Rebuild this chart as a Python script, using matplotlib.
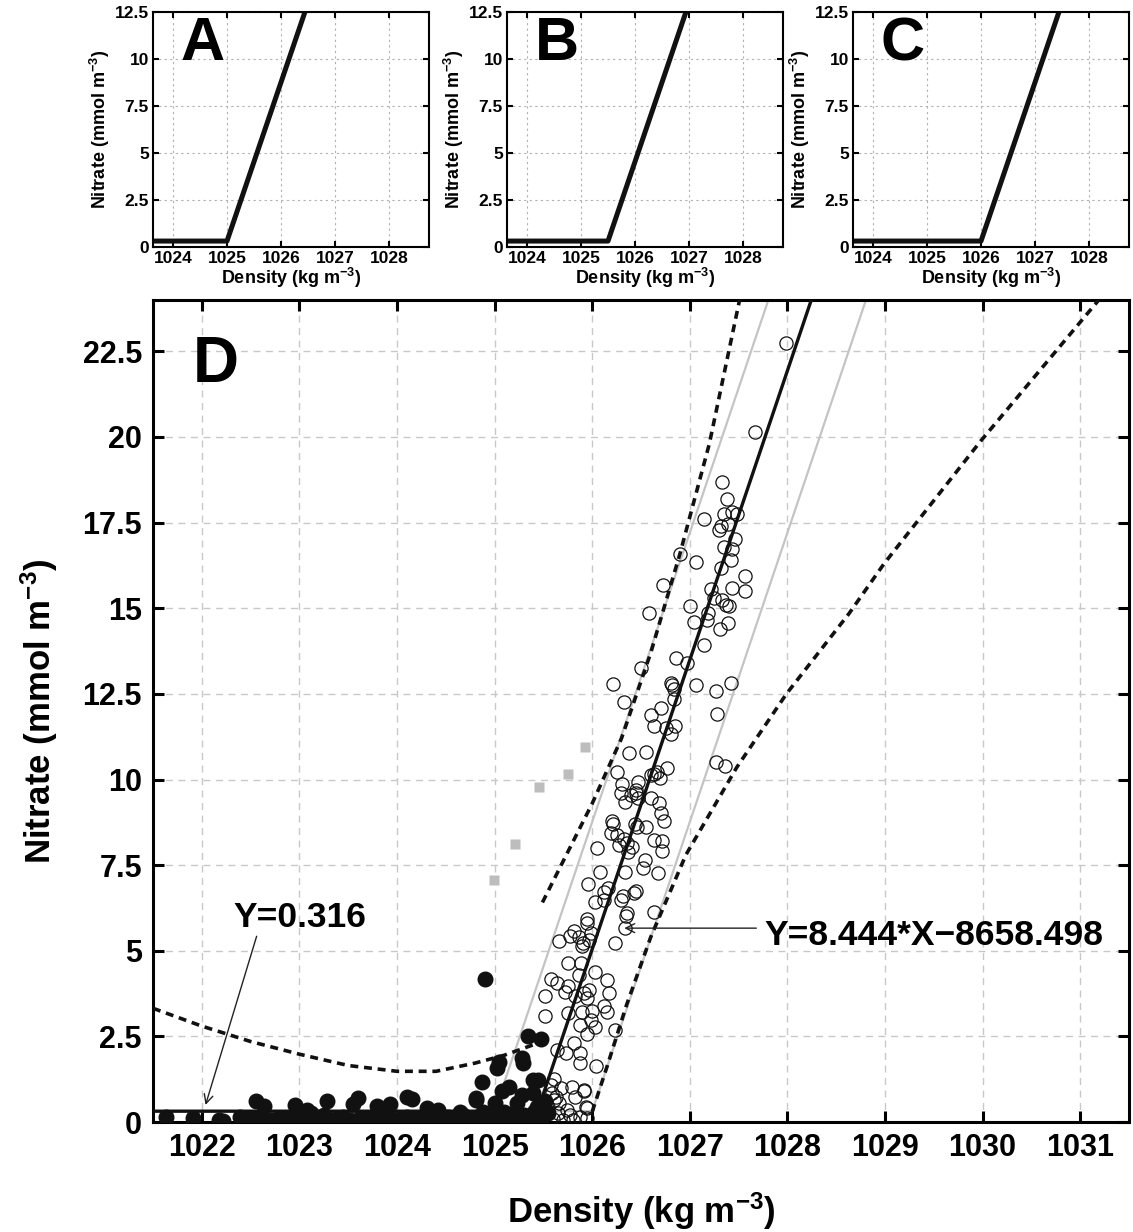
import numpy as np
import matplotlib
matplotlib.use("Agg")
from matplotlib import pyplot as plt
from matplotlib.ticker import FormatStrFormatter

plt.rcParams["font.family"] = ["Liberation Sans", "DejaVu Sans"]
plt.rcParams["font.weight"] = "bold"
plt.rcParams["axes.labelweight"] = "bold"
plt.rcParams["mathtext.fontset"] = "custom"
plt.rcParams["mathtext.rm"] = "Liberation Sans:bold"
plt.rcParams["mathtext.bf"] = "Liberation Sans:bold"
plt.rcParams["mathtext.it"] = "Liberation Sans:bold"
plt.rcParams["mathtext.default"] = "bf"

# fitted model (from the chart annotations)
plateau = 0.316
slope = 8.444
intercept = -8658.498
panel_breaks = [1025.0, 1025.5, 1026.0]
panel_names = ["A", "B", "C"]

# surface samples (filled dots)
surf_x = [1021.63, 1021.91, 1022.18, 1022.22, 1022.39, 1022.47, 1022.56, 1022.64, 1022.55, 1022.62,
          1022.70, 1022.77, 1022.84, 1022.91, 1022.95, 1022.98, 1023.02, 1023.08, 1023.05, 1023.12,
          1023.18, 1023.25, 1023.28, 1023.30, 1023.38, 1023.45, 1023.52, 1023.55, 1023.60, 1023.62,
          1023.68, 1023.75, 1023.79, 1023.82, 1023.90, 1023.93, 1023.96, 1024.02, 1024.10, 1024.15,
          1024.10, 1024.18, 1024.25, 1024.31, 1024.32, 1024.38, 1024.42, 1024.45, 1024.52, 1024.60,
          1024.65, 1024.68, 1024.75, 1024.81, 1024.82, 1024.81, 1024.87, 1024.88, 1024.90, 1024.95,
          1025.00, 1025.00, 1025.02, 1025.05, 1025.05, 1025.08, 1025.10, 1025.15, 1025.15, 1025.20,
          1025.23, 1025.25, 1025.28, 1025.29, 1025.28, 1025.30, 1025.34, 1025.35, 1025.39, 1025.39,
          1025.40, 1025.43, 1025.44, 1025.45, 1025.48, 1025.50, 1025.52, 1025.55]
surf_y = [0.15, 0.12, 0.05, 0.04, 0.15, 0.12, 0.61, 0.47, 0.08, 0.10,
          0.06, 0.10, 0.08, 0.12, 0.50, 0.20, 0.10, 0.35, 0.15, 0.25,
          0.10, 0.20, 0.61, 0.05, 0.10, 0.15, 0.05, 0.52, 0.70, 0.12,
          0.08, 0.15, 0.47, 0.10, 0.20, 0.52, 0.05, 0.10, 0.73, 0.67,
          0.15, 0.08, 0.12, 0.41, 0.20, 0.10, 0.35, 0.05, 0.15, 0.10,
          0.30, 0.20, 0.08, 0.64, 0.15, 0.70, 1.17, 0.30, 4.17, 0.10,
          0.55, 0.20, 1.57, 1.75, 0.05, 0.90, 0.30, 1.02, 0.12, 0.25,
          0.55, 0.08, 1.87, 1.72, 0.79, 0.20, 2.51, 0.10, 1.22, 0.85,
          0.30, 0.44, 1.22, 0.05, 2.42, 0.15, 0.60, 0.25]

# deep samples (open circles)
deep_x = [1027.99, 1027.67, 1027.33, 1027.38, 1027.35, 1027.43, 1027.48, 1027.15, 1027.32, 1027.39,
          1027.30, 1027.46, 1027.35, 1027.43, 1027.42, 1026.90, 1027.06, 1027.32,
          1027.57, 1026.73, 1027.43, 1027.22, 1027.57, 1027.25, 1027.33, 1027.37, 1027.40, 1027.00,
          1026.58, 1027.19, 1027.18, 1027.04, 1027.39, 1027.31, 1027.15, 1026.86, 1026.97, 1026.50,
          1026.21, 1026.81, 1026.82, 1026.84, 1027.06, 1027.42, 1027.27, 1026.84, 1026.33, 1026.71,
          1027.28, 1026.60, 1026.63, 1026.85, 1026.76, 1026.81, 1026.55, 1026.38, 1027.27, 1027.36,
          1026.77, 1026.25, 1026.66, 1026.63, 1026.69, 1026.60, 1026.31, 1026.47, 1026.45,
          1026.30, 1026.40, 1026.45, 1026.47, 1026.34, 1026.60, 1026.68, 1026.71, 1026.74, 1026.20,
          1026.21, 1026.44, 1026.46, 1026.55, 1026.19, 1026.25, 1026.33, 1026.36, 1026.27, 1026.41,
          1026.37, 1026.63, 1026.72, 1026.72, 1026.05, 1026.54, 1026.52, 1026.67, 1026.34, 1026.08,
          1025.96, 1026.16, 1026.12, 1026.32, 1026.43, 1026.45, 1026.03, 1026.12, 1026.30, 1026.36,
          1026.35, 1026.34, 1026.63, 1025.95, 1025.95, 1025.99, 1025.81, 1025.77, 1025.86, 1025.91,
          1025.97, 1025.66, 1026.23, 1025.90, 1025.75, 1025.89,
          1025.86, 1026.03, 1025.58, 1025.64, 1025.75, 1026.15, 1025.72, 1025.82, 1025.92, 1025.97,
          1026.17, 1025.52, 1025.95, 1026.12, 1026.15, 1025.52, 1025.75, 1025.90, 1026.00, 1025.99,
          1025.88, 1026.03, 1025.95, 1026.23, 1025.81, 1025.64, 1025.73, 1025.87, 1025.88, 1026.04,
          1025.61, 1025.58, 1025.68, 1025.79, 1025.92, 1025.59, 1025.63, 1025.82, 1025.61, 1025.66,
          1025.94, 1025.55, 1025.74, 1025.65, 1025.77, 1025.87, 1025.95, 1025.60, 1025.70, 1025.80,
          1025.95, 1025.92]
deep_y = [22.74, 20.15, 18.69, 18.19, 17.76, 17.81, 17.76, 17.61, 17.40, 17.46,
          17.29, 17.03, 16.79, 16.73, 16.41, 16.59, 16.36, 16.18,
          15.95, 15.69, 15.60, 15.57, 15.51, 15.31, 15.25, 15.10, 15.07, 15.07,
          14.87, 14.87, 14.66, 14.61, 14.58, 14.40, 13.94, 13.56, 13.41, 13.27,
          12.80, 12.83, 12.77, 12.65, 12.77, 12.83, 12.57, 12.36, 12.27, 12.10,
          11.92, 11.87, 11.55, 11.57, 11.49, 11.34, 10.79, 10.76, 10.50, 10.38,
          10.35, 10.23, 10.23, 10.17, 10.03, 10.12, 9.88, 9.94, 9.68,
          9.62, 9.56, 9.62, 9.45, 9.33, 9.45, 9.30, 9.01, 8.78, 8.78,
          8.69, 8.69, 8.61, 8.60, 8.43, 8.37, 8.25, 8.16, 8.08, 8.02,
          7.87, 8.22, 8.19, 7.90, 7.99, 7.64, 7.41, 7.26, 7.29, 7.29,
          6.94, 6.82, 6.71, 6.59, 6.68, 6.74, 6.41, 6.47, 6.47, 6.09,
          6.01, 5.66, 6.12, 5.92, 5.80, 5.51, 5.57, 5.42, 5.39, 5.22,
          5.30, 5.28, 5.22, 5.13, 4.64, 4.64,
          4.29, 4.37, 4.17, 4.05, 3.97, 4.14, 3.79, 3.67, 3.76, 3.85,
          3.76, 3.67, 3.62, 3.38, 3.21, 3.09, 3.18, 3.21, 3.24, 2.97,
          2.83, 2.77, 2.57, 2.68, 2.30, 2.10, 2.01, 2.01, 1.72, 1.63,
          1.25, 1.08, 0.99, 1.02, 0.90, 0.85, 0.73, 0.73, 0.64, 0.55,
          0.44, 0.44, 0.35, 0.26, 0.20, 0.15, 0.12, 0.09, 0.06, 0.06,
          0.41, 0.93]

# excluded samples (grey squares)
excl_x = [1024.99, 1025.21, 1025.45, 1025.75, 1025.93]
excl_y = [7.08, 8.13, 9.77, 10.17, 10.96]

# confidence bounds (dashed)
lowleft_x = [1021.5, 1022.0, 1022.5, 1023.0, 1023.5, 1024.0, 1024.4, 1024.8, 1025.1, 1025.49]
lowleft_y = [3.32, 2.80, 2.35, 1.98, 1.65, 1.48, 1.48, 1.72, 1.95, 2.35]
upper_x = [1025.49, 1025.7, 1026.0, 1026.3, 1026.6, 1026.9, 1027.2, 1027.51]
upper_y = [6.41, 7.6, 9.3, 11.2, 13.7, 16.6, 19.8, 24.0]
lower_x = [1026.0, 1026.15, 1026.35, 1026.6, 1026.96, 1027.48, 1027.99, 1028.63, 1028.99, 1029.98, 1031.19]
lower_y = [0.30, 1.60, 3.40, 5.40, 7.80, 10.35, 12.50, 14.84, 16.30, 19.88, 24.0]

W, H = 1133, 1232
fig = plt.figure(figsize=(W / 100, H / 100), dpi=100)


def model(x, xb):
    x = np.asarray(x, dtype=float)
    return np.where(x < xb, plateau, plateau + slope * (x - xb))


def style_axes(ax, tick_len, lw):
    ax.tick_params(direction="in", top=True, right=True, length=tick_len, width=lw)
    for s in ax.spines.values():
        s.set_linewidth(lw)
    ax.set_axisbelow(True)


# small panels A-C
small_lefts = [153, 507, 853]
for left, xb, name in zip(small_lefts, panel_breaks, panel_names):
    ax = fig.add_axes([left / W, 1 - 247 / H, 276 / W, 235 / H])
    xs = np.array([1023.63, xb, xb + (12.6 - plateau) / slope])
    ax.plot(xs, model(xs, xb), color="#111111", lw=3.6, solid_capstyle="butt")
    ax.set_xlim(1023.63, 1028.74)
    ax.set_ylim(0, 12.5)
    ax.set_xticks([1024, 1025, 1026, 1027, 1028])
    ax.set_yticks([0, 2.5, 5, 7.5, 10, 12.5])
    ax.yaxis.set_major_formatter(FormatStrFormatter("%g"))
    ax.grid(True, color="#b0b0b0", ls=(0, (2, 3)), lw=0.8)
    style_axes(ax, 4, 1.5)
    ax.tick_params(labelsize=12.5, pad=3)
    ax.set_xlabel("Density (kg m$^{-3}$)", fontsize=13, labelpad=0)
    ax.set_ylabel("Nitrate (mmol m$^{-3}$)", fontsize=13, labelpad=2)
    ax.text(0.18, 0.86, name, transform=ax.transAxes, fontsize=44,
            ha="center", va="center")

# main panel D
ax = fig.add_axes([153 / W, 1 - 1122 / H, 976 / W, 822 / H])
x0 = (plateau - intercept) / slope
xtop = (24.5 - intercept) / slope
for xb in [panel_breaks[0], panel_breaks[2]]:
    xs = np.array([1021.5, xb, xb + (24.5 - plateau) / slope])
    ax.plot(xs, model(xs, xb), color="#c4c4c4", lw=1.6, zorder=2)
xs = np.array([1021.5, x0, xtop])
ax.plot(xs, np.where(xs < x0, plateau, slope * xs + intercept), color="#111111", lw=2.4, zorder=3)

dash = (0, (2.2, 1.6))
for bx, by in [(lowleft_x, lowleft_y), (upper_x, upper_y), (lower_x, lower_y)]:
    ax.plot(bx, by, color="#111111", lw=2.6, ls=dash, zorder=3)

ax.plot(excl_x, excl_y, "s", color="#bdbdbd", ms=7, mec="none", zorder=4)
ax.plot(surf_x, surf_y, "o", color="#111111", ms=10.5, mec="#111111", zorder=5)
ax.plot(deep_x, deep_y, "o", mfc="none", mec="#111111", mew=0.9, ms=9.5, zorder=5)

ax.set_xlim(1021.5, 1031.5)
ax.set_ylim(0, 24)
ax.set_xticks(np.arange(1022, 1032))
ax.set_yticks(np.arange(0, 23, 2.5))
ax.yaxis.set_major_formatter(FormatStrFormatter("%g"))
ax.grid(True, color="#c8c8c8", ls=(0, (5, 4)), lw=1.0)
style_axes(ax, 8, 2.2)
ax.tick_params(labelsize=22, pad=8)
ax.set_xlabel("Density (kg m$^{-3}$)", fontsize=25, labelpad=20)
ax.set_ylabel("Nitrate (mmol m$^{-3}$)", fontsize=25, labelpad=16)
ax.text(0.064, 0.921, "D", transform=ax.transAxes, fontsize=46, ha="center", va="center")

ax.text(1023.0, 5.98, "Y=0.316", fontsize=25.5, ha="center", va="center")
ax.annotate("", xy=(1022.03, 0.42), xytext=(1022.57, 5.5),
            arrowprops=dict(arrowstyle="->", lw=1.0, color="#222222", mutation_scale=16))
ax.text(1027.76, 5.45, "Y=8.444*X\u22128658.498", fontsize=25.5, ha="left", va="center")
ax.annotate("", xy=(1026.3, 5.66), xytext=(1027.71, 5.66),
            arrowprops=dict(arrowstyle="->", lw=1.0, color="#222222", mutation_scale=16))

fig.savefig("out.png", dpi=100)
